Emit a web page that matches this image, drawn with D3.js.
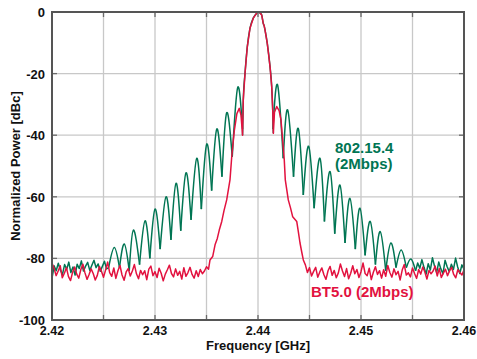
<!DOCTYPE html>
<html>
<head>
<meta charset="utf-8">
<script src="https://cdn.jsdelivr.net/npm/d3@7/dist/d3.min.js"></script>
<style>
  body { margin: 0; background: #fff; }
  text { font-family: "Liberation Sans", Arial, sans-serif; font-weight: bold; }
</style>
</head>
<body>
<svg id="chart" width="477" height="359"></svg>
<script>
// axis ticks
const xTicks = [2.42, 2.43, 2.44, 2.45, 2.46];
const xGrid = [2.425, 2.43, 2.435, 2.44, 2.445, 2.45, 2.455];
const yTicks = [0, -20, -40, -60, -80, -100];
const carrier = 2.44; // GHz

// all spectra: [offset from carrier in MHz, power in dBc]
const mainLobe = [[-1.5, -40], [-1.43, -28.6], [-1.26, -19.9], [-1.04, -11.3], [-0.78, -5.3], [-0.46, -2.0],
  [-0.13, -0.4], [0.03, 0], [0.2, -0.3], [0.36, -1.0], [0.51, -3.7], [0.6, -4.5], [0.68, -5.8], [0.9, -10.2],
  [1.17, -17.8], [1.33, -24.2], [1.43, -31.8], [1.49, -39.4]];

// 802.15.4 side lobes
const greenPeaksLeft = [[-13.95, -76.5], [-12.98, -75.3], [-12.1, -70.8], [-10.97, -67.8], [-10, -64], [-8.93, -60],
  [-7.96, -55.6], [-6.99, -52.2], [-5.95, -47.5], [-4.98, -42.9], [-4.0, -38], [-3.04, -32.7], [-1.97, -24.5]];
const greenNullsLeft = [[-14.5, -83], [-13.45, -83], [-12.5, -84], [-11.5, -82], [-10.5, -80], [-9.5, -77], [-8.45, -74],
  [-7.5, -71], [-6.5, -67.5], [-5.5, -64], [-4.5, -58], [-3.5, -53.5], [-2.5, -47], [-1.5, -38]];
const greenPeaksRight = [[1.9, -23.7], [2.88, -31.8], [3.91, -37.8], [4.92, -43.6], [6.02, -47.5], [7.0, -51.8],
  [7.96, -56.2], [8.93, -60.5], [9.9, -63.7], [10.9, -68], [11.87, -71.3], [12.9, -75], [13.9, -77.3], [14.85, -80.2]];
const greenNullsRight = [[1.45, -38], [2.45, -47.5], [3.45, -53.5], [4.4, -59.4], [5.45, -63.7], [6.45, -68], [7.45, -72],
  [8.45, -75], [9.45, -77], [10.4, -79], [11.4, -82], [12.4, -84], [13.4, -83], [14.4, -83], [15.3, -84]];
// 802.15.4 noise floor, evenly spaced over the given span
const greenFloorLeftSpan = [-20, -14.5];
const greenFloorLeft = [-86.5, -82.4, -84.0, -81.6, -83.8, -85.2, -82.0, -83.5, -81.2, -84.6, -82.8, -85.4, -81.9, -83.3,
  -80.8, -84.1, -82.5, -81.3, -83.9, -82.2, -80.6, -83.0, -81.8, -84.2, -82.6, -80.9, -83.4, -83.0];
const greenFloorRightSpan = [15.3, 20];
const greenFloorRight = [-84.0, -81.5, -83.2, -80.4, -82.9, -85.1, -81.7, -83.8, -79.8, -82.5, -84.6, -81.2, -83.4,
  -85.0, -80.6, -82.7, -84.3, -81.9, -83.6, -79.9, -82.8, -84.9, -82.1, -83.5];

// BT5.0 skirts
const redSkirtLeft = [[-4.66, -80.5], [-4.4, -79.4], [-4.17, -75.6], [-3.95, -73.5], [-3.76, -70.8], [-3.52, -68],
  [-3.3, -64.5], [-3.04, -61], [-2.72, -54.5], [-2.55, -47], [-2.3, -38.5], [-2.05, -33], [-1.82, -31.3], [-1.65, -33.5]];
const redSkirtRight = [[1.6, -32.5], [1.82, -30.7], [2.05, -32], [2.23, -35], [2.55, -48], [2.65, -54.5], [2.94, -61],
  [3.15, -63.5], [3.37, -66.5], [3.76, -68], [3.9, -71], [4.08, -75], [4.25, -78], [4.4, -80.5]];
const redFloorLeftSpan = [-20, -4.8];
const redFloorLeft = [-81.5, -83.2, -85.6, -84.1, -82.4, -86.3, -84.8, -83.0, -85.9, -87.2, -84.5, -82.8, -85.1, -86.4,
  -83.6, -81.9, -84.7, -86.8, -85.2, -83.4, -84.9, -87.0, -85.5, -82.6, -84.2, -86.1, -83.8, -81.2, -84.6, -85.8, -83.1,
  -86.5, -84.0, -82.3, -85.4, -87.1, -84.4, -83.3, -85.7, -84.1, -82.0, -85.0, -86.6, -83.9, -85.3, -84.0, -86.9, -83.5,
  -82.5, -85.6, -84.3, -86.2, -83.2, -84.8, -87.3, -85.1, -83.7, -82.2, -84.9, -86.0, -83.4, -85.5, -84.2, -86.7, -83.0,
  -85.8, -84.6, -82.9, -85.2, -86.4, -84.0, -85.9, -83.6, -85.0, -84.1, -82.7, -83.5];
const redFloorRightSpan = [4.6, 20];
const redFloorRight = [-82.1, -84.6, -83.0, -85.7, -84.2, -82.9, -86.1, -84.4, -83.1, -85.3, -86.8, -84.0, -82.6, -85.5,
  -83.9, -86.3, -84.7, -81.8, -84.1, -85.9, -83.3, -86.6, -84.8, -82.4, -85.0, -83.6, -86.2, -84.3, -81.5, -84.9, -85.6,
  -83.2, -86.9, -84.5, -82.7, -85.2, -84.0, -86.4, -83.7, -85.8, -82.3, -84.6, -86.1, -83.4, -85.3, -84.2, -87.0, -83.8,
  -82.0, -85.4, -84.7, -86.0, -83.1, -84.9, -86.5, -83.6, -85.1, -82.8, -84.4, -86.7, -83.9, -85.0, -84.1, -82.5, -85.7,
  -83.3, -86.2, -84.8, -83.5, -85.6, -84.0, -82.9, -85.2, -86.3, -83.7, -84.6, -85.4, -83.8];

const greenColor = "#007553";
const redColor = "#e2123f";

const svg = d3.select("#chart");
const margin = { left: 52, top: 12, right: 13, bottom: 39 };
const W = 477, H = 359;
const x = d3.scaleLinear().domain([2.42, 2.46]).range([margin.left, W - margin.right]);
const y = d3.scaleLinear().domain([-100, 0]).range([H - margin.bottom, margin.top]);

function spread(span, vals) {
  const step = (span[1] - span[0]) / (vals.length - 1);
  return vals.map((v, i) => [span[0] + i * step, v]);
}

const line = d3.line()
  .x(d => x(carrier + d[0] / 1000))
  .y(d => y(d[1]));

// grid
svg.append("g").selectAll("line").data(xGrid).enter().append("line")
  .attr("x1", d => x(d)).attr("x2", d => x(d))
  .attr("y1", y(-100)).attr("y2", y(0))
  .attr("stroke", "#c8c8c8").attr("stroke-width", 1.3);
svg.append("g").selectAll("line").data(yTicks.slice(1, -1)).enter().append("line")
  .attr("x1", x(2.42)).attr("x2", x(2.46))
  .attr("y1", d => y(d)).attr("y2", d => y(d))
  .attr("stroke", "#c8c8c8").attr("stroke-width", 1.3);

svg.append("clipPath").attr("id", "plot").append("rect")
  .attr("x", x(2.42)).attr("y", y(0) - 1)
  .attr("width", x(2.46) - x(2.42)).attr("height", y(-100) - y(0) + 1);

const plot = svg.append("g").attr("clip-path", "url(#plot)");

// 802.15.4
const green = plot.append("g").attr("fill", "none").attr("stroke", greenColor)
  .attr("stroke-width", 1.5).attr("stroke-linejoin", "round");
green.append("path").attr("d", line.curve(d3.curveLinear)(spread(greenFloorLeftSpan, greenFloorLeft)));
green.append("path").attr("d", line.curve(d3.curveLinear)(spread(greenFloorRightSpan, greenFloorRight)));
greenPeaksLeft.forEach((p, i) => {
  green.append("path").attr("d", line.curve(d3.curveNatural)([greenNullsLeft[i], p, greenNullsLeft[i + 1]]));
});
greenPeaksRight.forEach((p, i) => {
  green.append("path").attr("d", line.curve(d3.curveNatural)([greenNullsRight[i], p, greenNullsRight[i + 1]]));
});
green.append("path").attr("d", line.curve(d3.curveMonotoneX)(mainLobe));

// BT5.0
const redData = [].concat(spread(redFloorLeftSpan, redFloorLeft), redSkirtLeft, mainLobe,
  redSkirtRight, spread(redFloorRightSpan, redFloorRight));
plot.append("path").attr("d", line.curve(d3.curveLinear)(redData))
  .attr("fill", "none").attr("stroke", redColor).attr("stroke-width", 1.5).attr("stroke-linejoin", "round");

// inward ticks
const tk = svg.append("g").attr("stroke", "#6a6a6a").attr("stroke-width", 1.3);
xGrid.forEach(d => {
  tk.append("line").attr("x1", x(d)).attr("x2", x(d)).attr("y1", y(-100)).attr("y2", y(-100) - 5);
  tk.append("line").attr("x1", x(d)).attr("x2", x(d)).attr("y1", y(0)).attr("y2", y(0) + 5);
});
yTicks.slice(1, -1).forEach(d => {
  tk.append("line").attr("x1", x(2.42)).attr("x2", x(2.42) + 5).attr("y1", y(d)).attr("y2", y(d));
  tk.append("line").attr("x1", x(2.46)).attr("x2", x(2.46) - 5).attr("y1", y(d)).attr("y2", y(d));
});

// frame
svg.append("rect")
  .attr("x", x(2.42)).attr("y", y(0))
  .attr("width", x(2.46) - x(2.42)).attr("height", y(-100) - y(0))
  .attr("fill", "none").attr("stroke", "#555").attr("stroke-width", 2);

// tick labels
svg.append("g").selectAll("text").data(xTicks).enter().append("text")
  .attr("x", d => x(d)).attr("y", 335)
  .attr("text-anchor", "middle").attr("font-size", 12.5).attr("fill", "#111")
  .text(d => d3.format(".2f")(d));
svg.append("g").selectAll("text").data(yTicks).enter().append("text")
  .attr("x", 45).attr("y", d => y(d) + 5)
  .attr("text-anchor", "end").attr("font-size", 13).attr("fill", "#111")
  .text(d => d);

// axis titles
svg.append("text").attr("x", 258).attr("y", 350)
  .attr("text-anchor", "middle").attr("font-size", 13).attr("fill", "#111")
  .text("Frequency [GHz]");
svg.append("text").attr("transform", "translate(20," + ((y(0) + y(-100)) / 2) + ") rotate(-90)")
  .attr("text-anchor", "middle").attr("font-size", 13).attr("fill", "#111")
  .text("Normalized Power [dBc]");

// series labels
svg.append("text").attr("x", 335).attr("y", 153).attr("font-size", 15).attr("fill", greenColor).text("802.15.4");
svg.append("text").attr("x", 335).attr("y", 169).attr("font-size", 15).attr("fill", greenColor).text("(2Mbps)");
svg.append("text").attr("x", 311).attr("y", 297).attr("font-size", 15).attr("fill", redColor).text("BT5.0 (2Mbps)");
</script>
</body>
</html>
